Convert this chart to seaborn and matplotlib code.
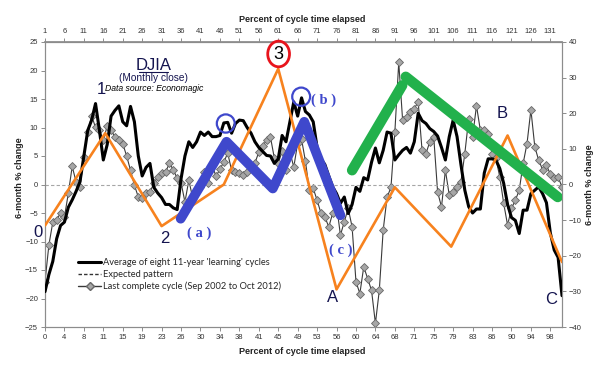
import matplotlib
matplotlib.use("Agg")
import pandas as pd
import seaborn as sns
import matplotlib.pyplot as plt
from matplotlib.lines import Line2D
from matplotlib.patches import Ellipse

# month index across the cycle (0..133)
months = list(range(134))

# Average of eight 11-year 'learning' cycles (left axis, %)
avg_cycles = [
    -18.8, -15.8, -13.5, -9.5, -7.2, -6.6, -4.0, -2.7, -1.2, 0.5,
    5.0, 9.5, 11.3, 14.2, 9.5, 4.3, 7.0, 12.0, 13.0, 13.8,
    11.0, 10.3, 13.7, 11.0, 5.0, 1.5, 3.0, 3.7, -0.5, -1.5,
    -2.3, -3.5, -3.5, -4.1, -4.4, 1.0, 5.0, 7.5, 6.5, 7.5,
    9.2, 8.6, 9.2, 8.4, 8.4, 8.6, 10.8, 10.9, 9.0, 10.7,
    11.3, 11.2, 10.0, 9.0, 7.5, 6.5, 5.8, 5.1, 5.0, 3.7,
    4.5, 8.6, 7.5, 11.0, 14.5, 12.0, 15.2, 12.8, 12.2, 11.0,
    6.5, 4.5, 3.5, 1.5, -0.4, -1.6, -3.3, -2.2, -5.1, -3.5,
    -0.5, -1.2, 1.2, 0.8, 3.9, 6.4, 3.8, 6.0, 9.2, 9.0,
    4.3, 5.2, 6.0, 6.5, 5.5, 7.5, 12.5, 11.2, 10.7, 9.8,
    9.3, 8.5, 6.5, 4.3, 8.4, 11.3, 8.4, 3.5, -1.0, -3.9,
    -5.0, -4.3, -4.3, 2.0, 4.5, 4.5, 4.3, 2.8, 0.2, -3.5,
    -5.8, -6.3, -8.6, -4.5, -4.5, -1.6, -1.0, -0.4, -1.6, -3.2,
    -8.5, -11.5, -12.8, -19.5,
]

# Last complete cycle, Sep 2002 to Oct 2012 (right axis, %)
last_cycle = [
    -27.3, -17.0, -10.6, -9.9, -8.0, -9.1, -2.5, 5.1, 0.7, -0.7,
    7.7, 14.7, 19.3, 16.0, 15.4, 12.4, 16.4, 15.2, 13.4, 12.4,
    11.5, 8.0, 4.0, -0.2, -3.5, -3.9, -2.5, -2.1, 0.3, 2.1,
    3.1, 3.5, 5.9, 4.2, 1.7, 0.5, -4.9, 1.2, -3.8, -1.6,
    -0.8, 3.5, 0.4, 5.4, 2.3, 4.3, 6.3, 8.8, 4.0, 3.5,
    3.2, 2.6, 3.5, 4.6, 6.0, 9.1, 10.8, 12.4, 13.3, 7.4,
    6.0, 9.3, 4.0, 9.1, 4.9, 11.6, 12.7, 6.5, -1.6, -1.1,
    -4.4, -8.1, -9.1, -11.9, -8.1, -5.8, -14.2, -10.5, -6.7, -11.9,
    -27.3, -30.6, -23.1, -26.4, -29.7, -39.0, -29.7, -12.8, -3.6, -0.8,
    14.7, 34.3, 18.0, 19.0, 20.4, 21.3, 23.2, 9.6, 8.7, 12.0,
    13.4, -2.1, -6.3, 4.0, -3.0, -2.1, -0.7, 0.7, 8.7, 18.5,
    13.4, 22.1, 15.2, 15.2, 14.3, 8.7, 7.3, 2.1, -5.3, -11.4,
    -6.7, -4.4, -1.6, 5.9, 11.5, 21.0, 10.6, 6.8, 4.2, 5.4,
    2.9, 1.7, 2.1, -0.7,
]

# hand-drawn expected pattern (orange), vertices
pattern_x = [0, 15.5, 30, 46, 60, 75, 90, 104.5, 119, 133]
pattern_y = [-7.2, 9.0, -7.3, 0.0, 20.3, -18.4, -0.5, -10.9, 8.6, -13.6]

# blue wave annotation (a)-(b)-(c)
wave_x = [34.9, 46.7, 58.6, 66.7, 76]
wave_y = [-6.0, 7.5, -0.7, 11.0, -5.4]

# green trend annotation
green_up_x = [79, 91.9]
green_up_y = [2.5, 17.4]
green_down_x = [92.8, 131.9]
green_down_y = [18.9, -2.2]

bottom_ticks = list(range(0, 131, 5))
bottom_labels = ["0", "4", "8", "11", "15", "19", "23", "26", "30", "34", "38", "41", "45", "49",
                 "53", "56", "60", "64", "68", "71", "75", "79", "83", "86", "90", "94", "98"]
top_labels = [str(m + 1) for m in bottom_ticks]

sns.set_theme(style="white")
plt.rcParams["font.family"] = ["Liberation Sans", "DejaVu Sans"]

fig = plt.figure(figsize=(6.06, 3.70), dpi=100)
ax = fig.add_axes([45 / 606, 1 - 327 / 370, 517 / 606, 285 / 370])
ax2 = ax.twinx()

navy = "#14144f"
blue = "#3f48cc"
orange = "#f7821e"
green = "#22b14c"

df = pd.DataFrame({"month": months, "avg": avg_cycles, "last": last_cycle})

# gray diamonds on the right axis
sns.lineplot(data=df, x="month", y="last", ax=ax2, color="#3a3a3a", lw=0.8,
             marker="D", markersize=4.0, markerfacecolor="#a6a6a6",
             markeredgecolor="#666666", markeredgewidth=0.6, zorder=3)

# left axis drawn on top of the gray series
ax.set_zorder(ax2.get_zorder() + 1)
ax.patch.set_visible(False)
ax.axhline(0, color="#a6a6a6", lw=0.8, ls=(0, (3, 2)), zorder=1)
sns.lineplot(data=df, x="month", y="avg", ax=ax, color="black", lw=2.2, zorder=4)
sns.lineplot(x=pattern_x, y=pattern_y, ax=ax, color=orange, lw=1.9, sort=False, zorder=5)
sns.lineplot(x=wave_x, y=wave_y, ax=ax, color=blue, lw=7, sort=False, zorder=6)
sns.lineplot(x=green_up_x, y=green_up_y, ax=ax, color=green, lw=7.5, sort=False, zorder=6,
             solid_capstyle="round")
sns.lineplot(x=green_down_x, y=green_down_y, ax=ax, color=green, lw=7.5, sort=False, zorder=6,
             solid_capstyle="round")

ax.set_xlim(0, 133)
ax.set_ylim(-25, 25)
ax2.set_ylim(-40, 40)
ax.set_yticks(range(-25, 26, 5))
ax2.set_yticks(range(-40, 41, 10))
ax.set_xticks(bottom_ticks)
ax.set_xticklabels(bottom_labels)
ax.set_xlabel("")
ax.set_ylabel("")
ax2.set_ylabel("")

top = ax.secondary_xaxis("top")
top.set_xticks(bottom_ticks)
top.set_xticklabels(top_labels)

for a in (ax, ax2):
    for s in a.spines.values():
        s.set_color("#8c8c8c")
        s.set_linewidth(0.8)
ax.tick_params(axis="both", labelsize=5.5, colors="#8c8c8c", labelcolor="#333333",
               direction="out", length=3, width=0.7, pad=2, left=True, bottom=True)
ax2.tick_params(axis="y", labelsize=5.5, colors="#8c8c8c", labelcolor="#333333",
                direction="out", length=3, width=0.7, pad=2, right=True)
top.tick_params(axis="x", labelsize=5.5, colors="#8c8c8c", labelcolor="#333333",
                direction="out", length=3, width=0.7, pad=2)
top.spines["top"].set_color("#8c8c8c")

# axis titles
fig.text(302 / 606, 1 - 19 / 370, "Percent of cycle time elapsed", ha="center", va="center",
         fontsize=6.5, fontweight="bold", color="#222222")
fig.text(302 / 606, 1 - 352 / 370, "Percent of cycle time elapsed", ha="center", va="center",
         fontsize=6.5, fontweight="bold", color="#222222")
fig.text(20 / 606, 1 - 178 / 370, "6-month % change", ha="center", va="center", rotation=90,
         fontsize=6.5, fontweight="bold", color="#222222")
fig.text(590 / 606, 1 - 185 / 370, "6-month % change", ha="center", va="center", rotation=90,
         fontsize=6.5, fontweight="bold", color="#222222")

# chart title block
ax.text(28.0, 20.9, "DJIA", ha="center", va="center", fontsize=12, color=navy)
ax.plot([24.3, 31.7], [19.7, 19.7], color=navy, lw=0.8)
ax.text(28.0, 18.7, "(Monthly close)", ha="center", va="center", fontsize=7.3, color=navy)
ax.text(28.0, 16.8, "Data source: Economagic", ha="center", va="center", fontsize=6.2,
        style="italic", color="black")

# wave labels
for x, y, s in [(14.4, 16.6, "1"), (30.7, -9.4, "2"), (-1.7, -8.4, "0"),
                (74.0, -19.9, "A"), (117.5, 12.5, "B"), (130.3, -20.2, "C")]:
    ax.text(x, y, s, ha="center", va="center", fontsize=12, color=navy, clip_on=False)

for x, y, s in [(39.7, -8.5, "( a )"), (71.7, 14.7, "( b )"), (76.0, -11.6, "( c )")]:
    ax.text(x, y, s, ha="center", va="center", fontsize=10.5, color=blue,
            family=["Liberation Serif", "DejaVu Serif"], fontweight="bold")

# circles
for cx, cy in [(46.5, 10.7), (65.9, 15.4)]:
    ax.add_patch(Ellipse((cx, cy), 4.6, 3.2, fill=False, ec=blue, lw=1.6, zorder=7))
ax.add_patch(Ellipse((60.1, 22.9), 5.6, 4.5, fill=False, ec="#e8141c", lw=2.0, zorder=7,
                     clip_on=False))
ax.text(60.1, 22.8, "3", ha="center", va="center", fontsize=13, color="black", zorder=8)

# legend
handles = [
    Line2D([], [], color="black", lw=2.2),
    Line2D([], [], color="#333333", lw=1.0, ls=(0, (2.5, 1.5))),
    Line2D([], [], color="#3a3a3a", lw=1.0, marker="D", markersize=4,
           markerfacecolor="#a6a6a6", markeredgecolor="#666666"),
]
labels = ["Average of eight 11-year 'learning' cycles", "Expected pattern",
          "Last complete cycle (Sep 2002 to Oct 2012)"]
fig.legend(handles, labels, loc="upper left", bbox_to_anchor=(78 / 606, 1 - 258 / 370),
           frameon=False, handlelength=2.5, handletextpad=0.15,
           labelspacing=0.3, borderpad=0, borderaxespad=0,
           prop={"family": ["Lato", "DejaVu Sans"], "size": 6.7})

fig.savefig("out.png", dpi=100)
